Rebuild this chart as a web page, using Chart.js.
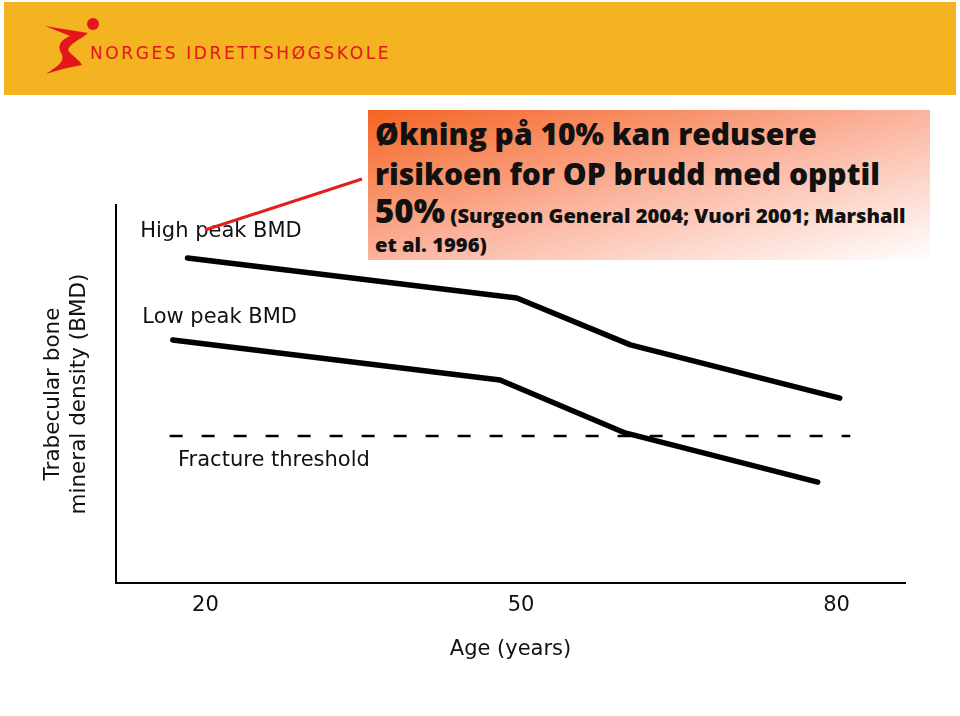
<!DOCTYPE html>
<html>
<head>
<meta charset="utf-8">
<script src="https://cdn.jsdelivr.net/npm/chart.js@4/dist/chart.umd.min.js"></script>
<style>
  html, body { margin: 0; padding: 0; background: #fff; }
  body { width: 960px; height: 716px; position: relative; overflow: hidden; }
  #band { position: absolute; left: 4px; top: 2px; width: 952px; height: 93px; background: #f4b321; }
  #logoText { position: absolute; left: 90px; top: 43px; font-family: "DejaVu Sans", sans-serif; font-size: 17px; letter-spacing: 2.6px; color: #e3161c; white-space: nowrap; }
  #box { position: absolute; left: 368px; top: 110px; width: 562px; height: 150px;
         background: linear-gradient(to bottom right, #f46422 0%, #fbb39d 50%, #ffffff 100%); }
  #boxText { position: absolute; left: 375px; top: 114px; font-family: "Open Sans", sans-serif; font-weight: 800; color: #111; white-space: nowrap; }
  .l1 { font-size: 30px; line-height: 40px; }
  .l3 { font-size: 20.2px; line-height: 33px; }
  .big { font-size: 33px; }
  .l4 { font-size: 20.2px; line-height: 24px; }
  #wrap { position: absolute; left: 0; top: 0; width: 960px; height: 716px; }
  #overlay { position: absolute; left: 0; top: 0; }
</style>
</head>
<body>
<div id="band"></div>
<svg id="logo" style="position:absolute;left:0;top:0" width="120" height="95">
  <circle cx="93" cy="24" r="6" fill="#e3161c"/>
  <path d="M45,26 L88,33 C80,40 70,43 68,50 C72,56 80,60 82,65 C70,67 58,70 46,74 C58,66 66,61 61,53 C57,45 61,40 70,36 Z" fill="#e3161c"/>
</svg>
<div id="logoText">NORGES IDRETTSHØGSKOLE</div>
<div id="wrap"><canvas id="c" width="960" height="716"></canvas></div>
<div id="box"></div>
<div id="boxText">
  <div class="l1">Økning på 10% kan redusere</div>
  <div class="l1">risikoen for OP brudd med opptil</div>
  <div class="l3"><span class="big">50%</span> (Surgeon General 2004; Vuori 2001; Marshall</div>
  <div class="l4">et al. 1996)</div>
</div>
<svg id="overlay" width="960" height="716" style="pointer-events:none">
  <line x1="205" y1="230" x2="362" y2="179" stroke="#e01f1f" stroke-width="3"/>
</svg>
<script>
// ---- data ----
const xTickAges = [20, 50, 80];
const highAges = [18.3, 49.6, 60.4, 80.3];
const highBMD  = [86.0, 75.4, 63.0, 48.9];
const lowAges  = [16.9, 48.0, 59.9, 78.2];
const lowBMD   = [64.3, 53.7, 39.7, 26.7];
const thresholdAges = [16.6, 81.3];
const thresholdBMD  = [38.9, 38.9];
const labelTexts = ["High peak BMD", "Low peak BMD", "Fracture threshold"];
const labelAges  = [13.8, 14.0, 17.4];
const labelBMD   = [92.9, 70.1, 32.3];
const xTitle = "Age (years)";
const yTitle = ["Trabecular bone", "mineral density (BMD)"];

const pts = (xs, ys) => xs.map((x, i) => ({ x: x, y: ys[i] }));

const labelPlugin = {
  id: 'curveLabels',
  afterDatasetsDraw(chart) {
    const { ctx, scales } = chart;
    ctx.save();
    ctx.font = '21px "DejaVu Sans", sans-serif';
    ctx.fillStyle = '#111';
    ctx.textAlign = 'left';
    ctx.textBaseline = 'middle';
    labelTexts.forEach((t, i) => {
      ctx.fillText(t, scales.x.getPixelForValue(labelAges[i]), scales.y.getPixelForValue(labelBMD[i]));
    });
    ctx.restore();
  }
};

new Chart(document.getElementById('c'), {
  type: 'line',
  data: {
    datasets: [
      { data: pts(highAges, highBMD), borderColor: '#000', borderWidth: 5.5, pointRadius: 0, borderCapStyle: 'round', borderJoinStyle: 'round', tension: 0 },
      { data: pts(lowAges, lowBMD), borderColor: '#000', borderWidth: 5.5, pointRadius: 0, borderCapStyle: 'round', borderJoinStyle: 'round', tension: 0 },
      { data: pts(thresholdAges, thresholdBMD), borderColor: '#000', borderWidth: 2.5, borderDash: [13, 19], pointRadius: 0, tension: 0 }
    ]
  },
  options: {
    responsive: false,
    animation: false,
    events: [],
    layout: { padding: { left: 31, top: 205, right: 55, bottom: 43 } },
    plugins: { legend: { display: false }, tooltip: { enabled: false }, title: { display: false } },
    scales: {
      x: {
        type: 'linear', min: 11.5, max: 86.5,
        afterBuildTicks: (s) => { s.ticks = xTickAges.map(v => ({ value: v })); },
        afterFit: (s) => { s.height = 90; },
        grid: { display: false, drawTicks: false },
        border: { display: true, color: '#000', width: 2 },
        ticks: { color: '#111', font: { family: '"DejaVu Sans", sans-serif', size: 21 }, padding: 10, maxRotation: 0, autoSkip: false },
        title: { display: true, text: xTitle, color: '#111', font: { family: '"DejaVu Sans", sans-serif', size: 21 }, padding: { top: 0, bottom: 11 } }
      },
      y: {
        type: 'linear', min: 0, max: 100,
        afterFit: (s) => { s.width = 85; },
        grid: { display: false, drawTicks: false },
        border: { display: true, color: '#000', width: 2 },
        ticks: { display: false },
        title: { display: true, text: yTitle, color: '#111', font: { family: '"DejaVu Sans", sans-serif', size: 21.5, lineHeight: 1.22 }, padding: { top: 9, bottom: 0 } }
      }
    }
  },
  plugins: [labelPlugin]
});
</script>
</body>
</html>
